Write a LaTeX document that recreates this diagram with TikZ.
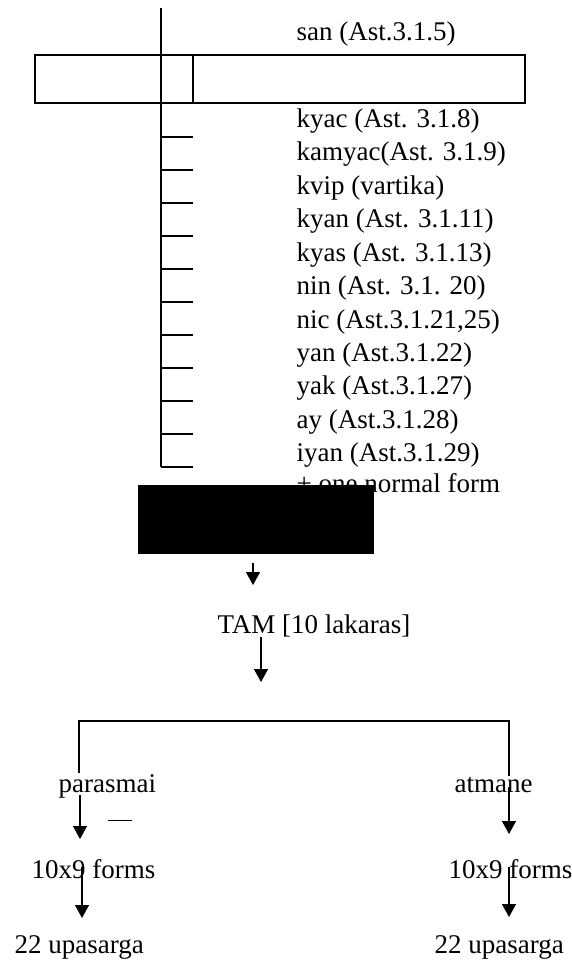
\documentclass[tikz,border=0pt]{standalone}
\usepackage{fontspec}
\setmainfont{Liberation Serif}
\usetikzlibrary{arrows.meta}
\tikzset{
  lbl/.style={anchor=base west, inner sep=0pt, font=\fontsize{27}{33}\selectfont},
  tip/.style={-{Triangle[length=13pt,width=14pt]}},
}
\begin{document}
\begin{tikzpicture}[x=1pt,y=-1pt,line width=1.3pt]
        \useasboundingbox (0,0) rectangle (572,964);
        \draw (161,8) -- (161,467); % trunk
        \draw (35,55) rectangle (525,103);
        \draw (161,55) rectangle (193,103);
        \draw (161,137) -- (193,137);
        \draw (161,170) -- (193,170);
        \draw (161,203) -- (193,203);
        \draw (161,236) -- (193,236);
        \draw (161,269) -- (193,269);
        \draw (161,302) -- (193,302);
        \draw (161,335) -- (193,335);
        \draw (161,368) -- (193,368);
        \draw (161,401) -- (193,401);
        \draw (161,434) -- (193,434);
        \draw (161,467) -- (193,467);
        \node[lbl] (san) at (296,40) {san (Ast.3.1.5)};
        \node[lbl] (kyac) at (296,127) {kyac (Ast. 3.1.8)};
        \node[lbl] (kamyac) at (296,160) {kamyac(Ast. 3.1.9)};
        \node[lbl] (kvip) at (296,194) {kvip (vartika)};
        \node[lbl] (kyan) at (296,227) {kyan (Ast. 3.1.11)};
        \node[lbl] (kyas) at (296,261) {kyas (Ast. 3.1.13)};
        \node[lbl] (nin) at (296,294) {nin (Ast. 3.1. 20)};
        \node[lbl] (nic) at (296,328) {nic (Ast.3.1.21,25)};
        \node[lbl] (yan) at (296,361) {yan (Ast.3.1.22)};
        \node[lbl] (yak) at (296,394) {yak (Ast.3.1.27)};
        \node[lbl] (ay) at (296,428) {ay (Ast.3.1.28)};
        \node[lbl] (iyan) at (296,461) {iyan (Ast.3.1.29)};
        \node[lbl] (norm) at (296,492) {+ one normal form};
        \node[fill=black, inner sep=0pt, minimum width=236pt, minimum height=69pt] (blk) at (256,519.5) {};
        \node[lbl] (tam) at (217,633) {TAM [10 lakaras]};
        \node[lbl] (par) at (58,792) {parasmai};
        \node[lbl] (atm) at (454,792) {atmane};
        \node[lbl] (pf) at (31,878) {10x9 forms};
        \node[lbl] (af) at (448,878) {10x9 forms};
        \node[lbl] (pu) at (14,953) {22 upasarga};
        \node[lbl] (au) at (434,953) {22 upasarga};
        \coordinate (b1) at (253,563);
        \coordinate (b2) at (253,585);
        \coordinate (t1) at (261,637);
        \coordinate (t2) at (261,682);
        \coordinate (lft) at (79,721);
        \coordinate (rgt) at (509,721);
        \draw[tip] (b1) -- (b2);
        \draw[tip] (t1) -- (t2);
        \draw (lft |- par.north) -- (lft) -- (rgt) -- (rgt |- atm.north);
        \draw[tip] (80,795) -- (80,839);
        \draw[line width=1pt] (108,820) -- (132,820);
        \draw[tip] (509,787) -- (509,834);
        \draw[tip] (82,867) -- (82,918);
        \draw[tip] (509,867) -- (509,917);
\end{tikzpicture}
\end{document}
